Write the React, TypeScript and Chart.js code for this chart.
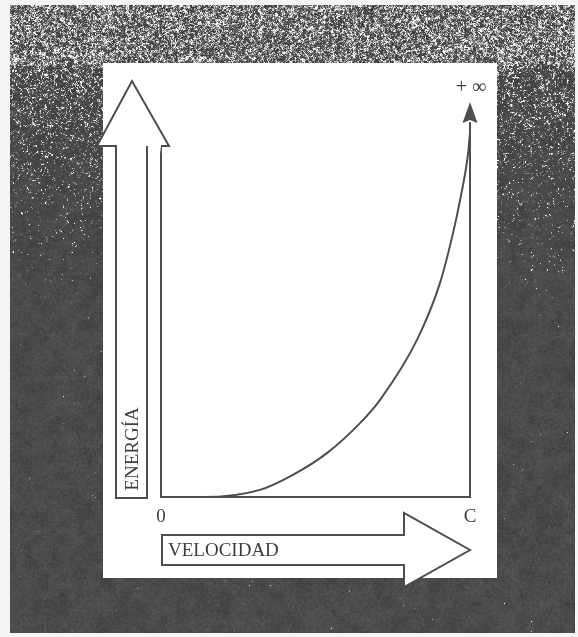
import { useEffect, useRef } from 'react';
import { Chart, registerables } from 'chart.js';
Chart.register(...registerables);

// Velocity as a fraction of c, and energy (relative units, top of plot = 100)
const velocity = [0, 0.06, 0.136, 0.32, 0.427, 0.537, 0.644, 0.709, 0.828, 0.903, 0.945, 0.968, 0.994, 1.0];
const energy = [0, 0, 0, 1.8, 5.6, 11.1, 18.7, 24.6, 39.7, 54.2, 66.8, 75.2, 87.1, 92.2];
const xTickValues = [0, 1];
const xTickLabels = ['0', 'C'];
const yTopLabel = '+ ∞';
const xTitle = 'VELOCIDAD';
const yTitle = 'ENERGÍA';

const INK = '#4e4e4e';
const FONT = '"Liberation Serif", "DejaVu Serif", serif';

// deterministic integer hash for the scan texture
function ihash(x: number, y: number) {
  let h = (Math.imul(x, 374761393) + Math.imul(y, 668265263)) | 0;
  h = Math.imul(h ^ (h >>> 13), 1274126177);
  h = h ^ (h >>> 16);
  return (h >>> 0) / 4294967296;
}
function vnoise(x: number, y: number, sc: number, seed: number) {
  const gx = x / sc, gy = y / sc;
  const ix = Math.floor(gx), iy = Math.floor(gy);
  const fx = gx - ix, fy = gy - iy;
  const a = ihash(ix + seed, iy), b = ihash(ix + 1 + seed, iy);
  const c = ihash(ix + seed, iy + 1), d = ihash(ix + 1 + seed, iy + 1);
  return (a * (1 - fx) + b * fx) * (1 - fy) + (c * (1 - fx) + d * fx) * fy;
}

const backgroundPlugin = {
  id: 'scanBackground',
  beforeDraw(chart: any) {
    const ctx = chart.ctx as CanvasRenderingContext2D;
    const w = chart.width;
    const h = chart.height;
    const ca = chart.chartArea;
    const img = ctx.createImageData(w, h);
    const data = img.data;
    const fx0 = 10, fx1 = 575, fy0 = 5, fy1 = 633;
    for (let y = 0; y < h; y++) {
      for (let x = 0; x < w; x++) {
        const i = (y * w + x) * 4;
        let v = 244;
        if (x >= fx0 && x < fx1 && y >= fy0 && y < fy1) {
          let s: number;
          if (y < 66) s = 1.0;
          else if (y < 320) s = 0.8 - ((y - 66) / 254) * 0.68;
          else s = 0.12;
          const n = 0.55 * vnoise(x, y, 1.8, 11) + 0.45 * ihash(x + 7919, y + 104729);
          const m = vnoise(x, y, 9, 3);
          v = 74 + (n - 0.5) * 26 + (m - 0.5) * 12;
          const thr = 1 - 0.6 * s;
          if (n > thr) v += Math.min(1, (n - thr) / (0.45 * s)) * 200;
        }
        data[i] = data[i + 1] = data[i + 2] = Math.max(0, Math.min(255, v));
        data[i + 3] = 255;
      }
    }
    ctx.putImageData(img, 0, 0);
    // white panel, positioned relative to the plot area
    ctx.save();
    ctx.fillStyle = '#ffffff';
    const pl = ca.left - 58, pt = ca.top - 39, pr = ca.right + 27, pb = ca.bottom + 81;
    ctx.fillRect(pl, pt, pr - pl, pb - pt);
    ctx.restore();
  },
};

const framePlugin = {
  id: 'arrowFrame',
  afterDatasetsDraw(chart: any) {
    const ctx = chart.ctx as CanvasRenderingContext2D;
    const ca = chart.chartArea;
    const xs = chart.scales.x;
    const x0 = xs.getPixelForValue(xTickValues[0]);
    const x1 = xs.getPixelForValue(xTickValues[1]);
    const yb = chart.scales.y.getPixelForValue(0);
    const yt = ca.top;
    ctx.save();
    ctx.strokeStyle = INK;
    ctx.lineWidth = 2;
    ctx.lineJoin = 'miter';

    // bottom axis + right (C) line
    ctx.beginPath();
    ctx.moveTo(x0, ca.top + 44);
    ctx.lineTo(x0, yb);
    ctx.lineTo(x1, yb);
    ctx.lineTo(x1, yt + 20);
    ctx.stroke();

    // vertical ENERGY arrow
    const headBase = yt + 44;
    const ax = x0 - 29; // centre of arrow
    ctx.beginPath();
    ctx.moveTo(x0 - 45, yb + 1);
    ctx.lineTo(x0 - 45, headBase);
    ctx.lineTo(x0 - 64, headBase);
    ctx.lineTo(ax, yt - 21);
    ctx.lineTo(x0 + 8, headBase);
    ctx.lineTo(x0, headBase);
    ctx.closePath();
    ctx.fillStyle = '#ffffff';
    ctx.fill();
    ctx.beginPath();
    ctx.moveTo(x0, headBase);
    ctx.lineTo(x0 + 8, headBase);
    ctx.lineTo(ax, yt - 21);
    ctx.lineTo(x0 - 64, headBase);
    ctx.lineTo(x0 - 45, headBase);
    ctx.lineTo(x0 - 45, yb + 1);
    ctx.lineTo(x0 - 14, yb + 1);
    ctx.lineTo(x0 - 14, headBase);
    ctx.stroke();

    // horizontal VELOCITY arrow
    const cy = yb + 53;
    ctx.beginPath();
    ctx.moveTo(x0 + 1, cy - 15);
    ctx.lineTo(x1 - 66, cy - 15);
    ctx.lineTo(x1 - 66, cy - 37);
    ctx.lineTo(x1, cy);
    ctx.lineTo(x1 - 66, cy + 37);
    ctx.lineTo(x1 - 66, cy + 15);
    ctx.lineTo(x0 + 1, cy + 15);
    ctx.closePath();
    ctx.fillStyle = '#ffffff';
    ctx.fill();
    ctx.stroke();

    // filled arrowhead at top of C line
    ctx.beginPath();
    ctx.moveTo(x1, yt);
    ctx.lineTo(x1 + 7.5, yt + 21);
    ctx.lineTo(x1, yt + 18);
    ctx.lineTo(x1 - 7.5, yt + 21);
    ctx.closePath();
    ctx.fillStyle = INK;
    ctx.fill();

    // texts
    ctx.fillStyle = '#3e3e3e';
    ctx.textAlign = 'center';
    ctx.textBaseline = 'middle';
    ctx.font = `19px ${FONT}`;
    xTickValues.forEach((v, i) => {
      ctx.fillText(xTickLabels[i], xs.getPixelForValue(v), yb + 20);
    });
    ctx.font = `20px ${FONT}`;
    ctx.fillText(yTopLabel, x1 + 1, yt - 14);
    ctx.font = `19px ${FONT}`;
    ctx.textAlign = 'left';
    ctx.fillText(xTitle, x0 + 7, cy + 1);
    ctx.save();
    ctx.translate(ax, yb - 48);
    ctx.rotate(-Math.PI / 2);
    ctx.textAlign = 'center';
    ctx.fillText(yTitle, 0, 1);
    ctx.restore();
    ctx.restore();
  },
};

export default function App() {
  const ref = useRef<HTMLCanvasElement | null>(null);
  useEffect(() => {
    if (!ref.current) return;
    const chart = new Chart(ref.current, {
      type: 'line',
      data: {
        datasets: [
          {
            data: velocity.map((v, i) => ({ x: v, y: energy[i] })),
            borderColor: INK,
            borderWidth: 2,
            pointRadius: 0,
            cubicInterpolationMode: 'monotone',
            fill: false,
          },
        ],
      },
      options: {
        animation: false,
        responsive: false,
        devicePixelRatio: 1,
        layout: { padding: { left: 161, right: 108, top: 102, bottom: 140 } },
        scales: {
          x: { type: 'linear', min: 0, max: 1, display: false },
          y: { min: 0, max: 100, display: false },
        },
        plugins: { legend: { display: false }, tooltip: { enabled: false } },
      },
      plugins: [backgroundPlugin, framePlugin],
    } as any);
    return () => chart.destroy();
  }, []);
  return (
    <div style={{ position: 'absolute', left: 0, top: 0 }}>
      <canvas ref={ref} width={578} height={637} style={{ display: 'block', width: 578, height: 637 }} />
    </div>
  );
}
